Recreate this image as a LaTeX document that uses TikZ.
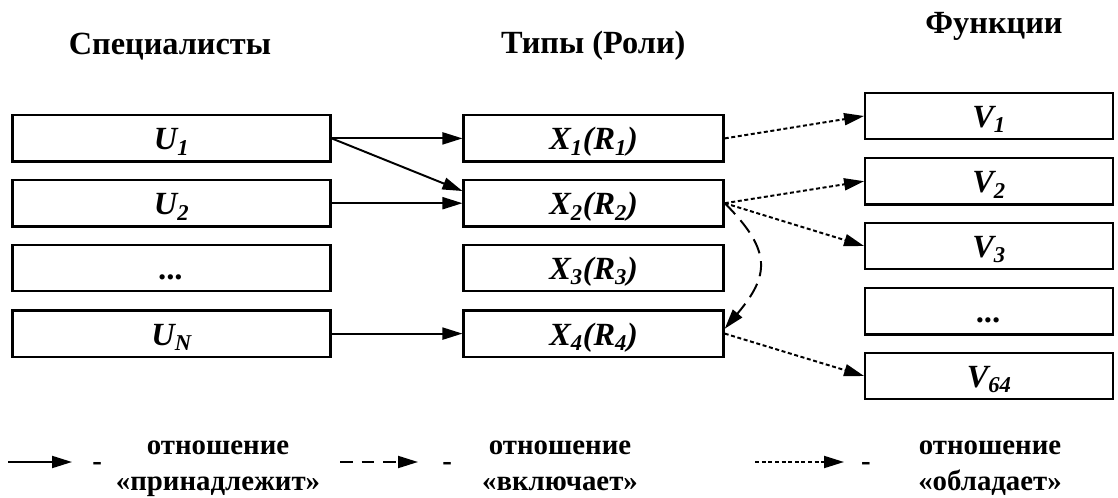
\documentclass[tikz,border=0pt]{standalone}
\usepackage{fontspec}
\setmainfont{Liberation Serif}
\usetikzlibrary{arrows.meta,calc}

\tikzset{
  box/.style={draw, line width=1.6pt, minimum height=1.16cm, inner sep=0pt,
    text height=0.66cm, text depth=0.08cm,
    font=\fontsize{23}{27}\selectfont\bfseries\itshape},
  ubox/.style={box, minimum width=7.95cm},
  xbox/.style={box, minimum width=6.5cm},
  vbox/.style={box, minimum width=6.2cm},
  head/.style={anchor=base, font=\fontsize{23}{27}\selectfont\bfseries},
  legend/.style={anchor=base, font=\fontsize{20.5}{24}\selectfont\bfseries},
  tip/.style={-{Triangle[length=0.5cm,width=0.3cm]}},
  owns/.style={tip, line width=1.4pt},
  incl/.style={tip, line width=1.4pt, dash pattern=on 0.38cm off 0.2cm},
  has/.style={tip, line width=1.4pt, dash pattern=on 0.1cm off 0.065cm}
}

\begin{document}
\begin{tikzpicture}
  \useasboundingbox (0,0) rectangle (27.95,-12.45);

  % column headers
  \node[head] (hU) at ( 4.25,-1.37) {Специалисты};
  \node[head] (hX) at (14.83,-1.33) {Типы (Роли)};
  \node[head] (hV) at (24.85,-0.83) {Функции};

  % specialists
  \node[ubox] (U1) at (4.29,-3.46) {U\textsubscript{1}};
  \node[ubox] (U2) at (4.29,-5.08) {U\textsubscript{2}};
  \node[ubox] (U3) at (4.29,-6.70) {...};
  \node[ubox] (UN) at (4.29,-8.34) {U\textsubscript{N}};

  % types (roles)
  \node[xbox] (X1) at (14.84,-3.46) {X\textsubscript{1}(R\textsubscript{1})};
  \node[xbox] (X2) at (14.84,-5.08) {X\textsubscript{2}(R\textsubscript{2})};
  \node[xbox] (X3) at (14.84,-6.70) {X\textsubscript{3}(R\textsubscript{3})};
  \node[xbox] (X4) at (14.84,-8.34) {X\textsubscript{4}(R\textsubscript{4})};

  % functions
  \node[vbox] (V1)  at (24.73,-2.90) {V\textsubscript{1}};
  \node[vbox] (V2)  at (24.73,-4.53) {V\textsubscript{2}};
  \node[vbox] (V3)  at (24.73,-6.15) {V\textsubscript{3}};
  \node[vbox] (V4)  at (24.73,-7.78) {...};
  \node[vbox] (V64) at (24.73,-9.40) {V\textsubscript{64}};

  % relations
  \draw[owns] (U1.east) -- (X1.west);
  \draw[owns] (U1.east) -- ($(X2.north west)!0.25!(X2.south west)$);
  \draw[owns] (U2.east) -- (X2.west);
  \draw[owns] (UN.east) -- (X4.west);

  \draw[incl] (X2.east) to[out=-45,in=50,looseness=1.4] ($(X4.north east)!0.4!(X4.south east)$);

  \draw[has] (X1.east) -- (V1.west);
  \draw[has] (X2.east) -- (V2.west);
  \draw[has] (X2.east) -- (V3.west);
  \draw[has] (X4.east) -- (V64.west);

  % legend
  \coordinate (a1) at (0.20,-11.55);
  \coordinate (a2) at (1.80,-11.55);
  \coordinate (b1) at (8.50,-11.55);
  \coordinate (b2) at (10.45,-11.55);
  \coordinate (c1) at (18.88,-11.55);
  \coordinate (c2) at (21.10,-11.55);
  \draw[owns] (a1) -- (a2);
  \draw[incl, dash pattern=on 0.32cm off 0.22cm] (b1) -- (b2);
  \draw[has] (c1) -- (c2);

  \node[legend] (d1) at ( 2.43,-11.75) {-};
  \node[legend] (d2) at (11.18,-11.75) {-};
  \node[legend] (d3) at (21.65,-11.75) {-};
  \node[legend] (l1a) at ( 5.45,-11.37) {отношение};
  \node[legend] (l1b) at ( 5.45,-12.25) {«принадлежит»};
  \node[legend] (l2a) at (14.00,-11.37) {отношение};
  \node[legend] (l2b) at (14.00,-12.25) {«включает»};
  \node[legend] (l3a) at (24.75,-11.37) {отношение};
  \node[legend] (l3b) at (24.75,-12.25) {«обладает»};
\end{tikzpicture}
\end{document}
